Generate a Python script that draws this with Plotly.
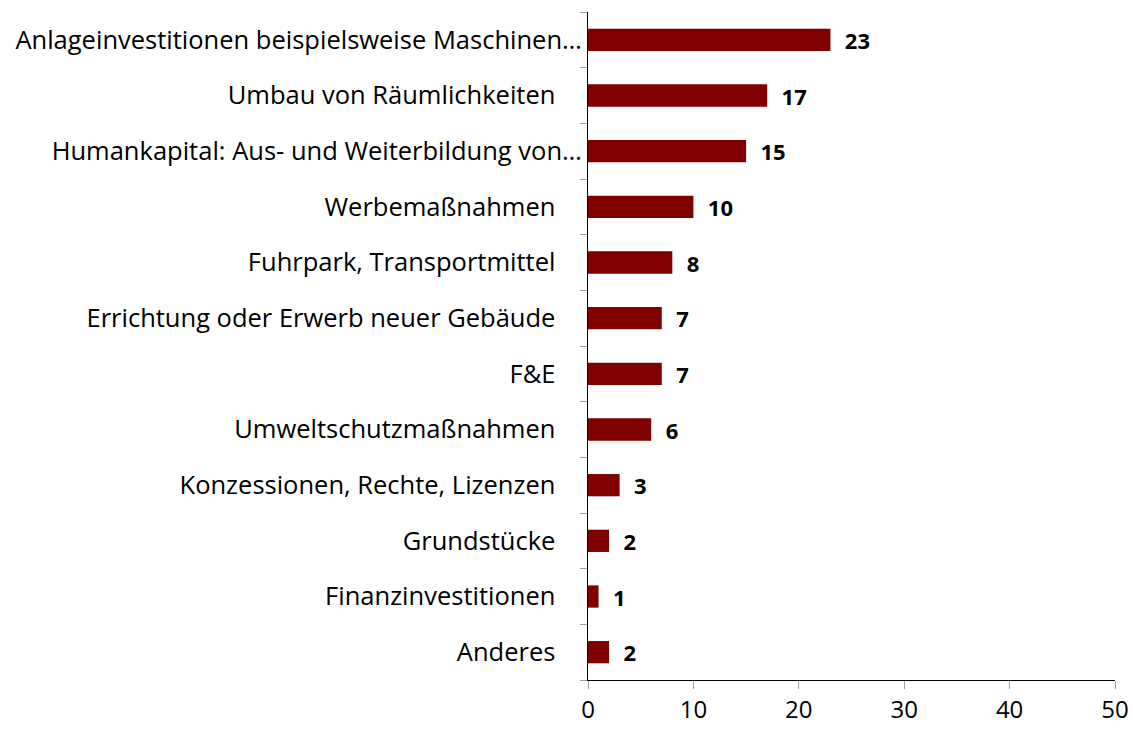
import plotly.graph_objects as go

categories = [
    "Anlageinvestitionen beispielsweise Maschinen…",
    "Umbau von Räumlichkeiten",
    "Humankapital: Aus- und Weiterbildung von…",
    "Werbemaßnahmen",
    "Fuhrpark, Transportmittel",
    "Errichtung oder Erwerb neuer Gebäude",
    "F&E",
    "Umweltschutzmaßnahmen",
    "Konzessionen, Rechte, Lizenzen",
    "Grundstücke",
    "Finanzinvestitionen",
    "Anderes",
]
values = [23, 17, 15, 10, 8, 7, 7, 6, 3, 2, 1, 2]
x_ticks = [0, 10, 20, 30, 40, 50]

NB = "\u00a0"
tick_text = [c if c.endswith("…") else c + NB * 4 for c in categories]
bar_text = [NB * 2 + str(v) for v in values]

FONT = "Open Sans"

fig = go.Figure(
    go.Bar(
        x=values,
        y=categories,
        orientation="h",
        width=0.4,
        marker=dict(color="#800000", line=dict(width=0)),
        text=bar_text,
        textposition="outside",
        constraintext="none",
        cliponaxis=False,
        textfont=dict(family=FONT, size=22, color="black", weight="bold"),
    )
)

fig.update_layout(
    width=1133,
    height=729,
    margin=dict(l=588, r=18, t=12, b=49),
    plot_bgcolor="white",
    paper_bgcolor="white",
    showlegend=False,
    font=dict(family=FONT, size=24, color="black"),
    xaxis=dict(
        range=[0, 50],
        tickvals=x_ticks,
        showgrid=False,
        zeroline=False,
        showline=True,
        linecolor="black",
        linewidth=1,
        ticks="outside",
        ticklen=8,
        tickcolor="#a0a0a0",
        tickfont=dict(size=24),
        automargin=False,
    ),
    yaxis=dict(
        categoryorder="array",
        categoryarray=categories,
        tickvals=categories,
        ticktext=tick_text,
        autorange="reversed",
        showgrid=False,
        showline=True,
        linecolor="black",
        linewidth=1,
        ticks="outside",
        tickson="boundaries",
        ticklen=7,
        tickcolor="#a0a0a0",
        tickfont=dict(size=25.5),
        automargin=False,
    ),
)

fig.write_html(
    "out.html",
    config={"displayModeBar": False},
    post_script="document.body.style.margin='0';document.body.style.overflow='hidden';",
)
